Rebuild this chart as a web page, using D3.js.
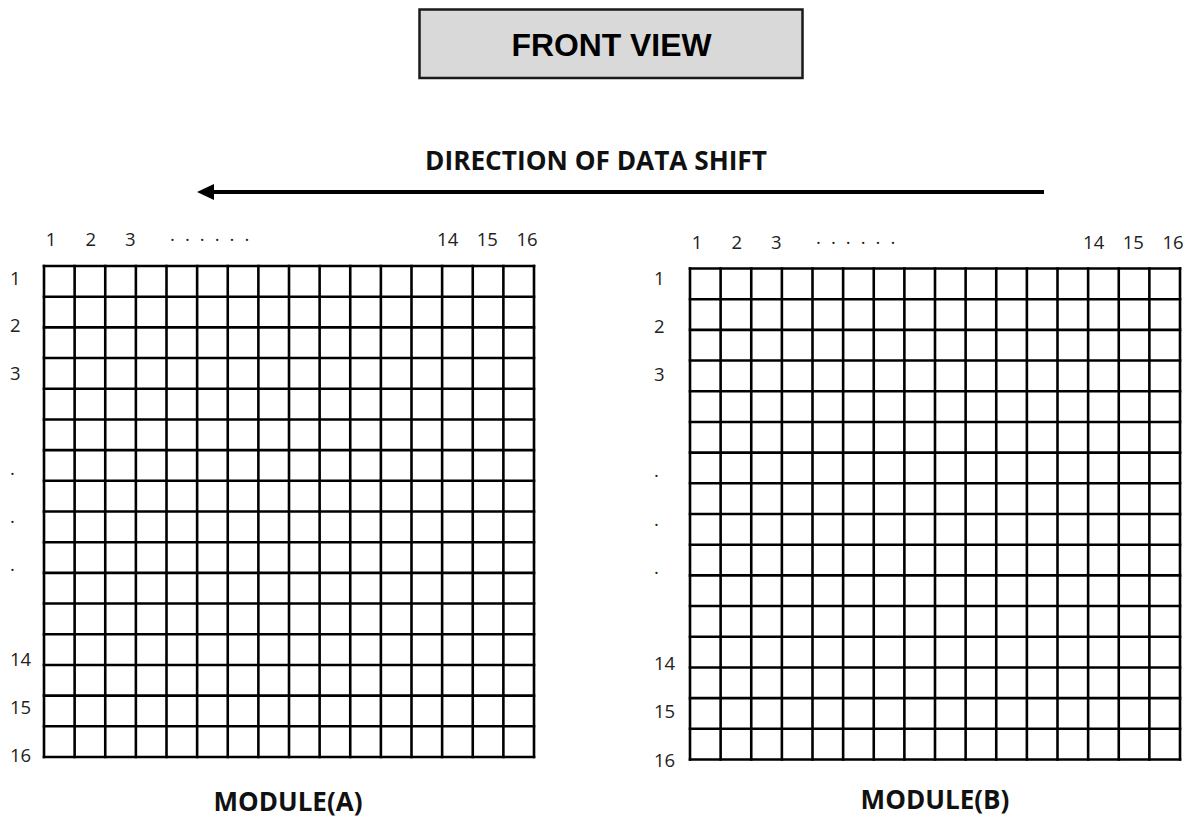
<!DOCTYPE html>
<html>
<head>
<meta charset="utf-8">
<script src="https://cdn.jsdelivr.net/npm/d3@7"></script>
<style>
  html, body { margin: 0; padding: 0; background: #fff; }
  svg { display: block; }
</style>
</head>
<body>
<svg id="chart" width="1193" height="818"></svg>
<script>
// ---------------- data ----------------
const titleText = "FRONT VIEW";
const directionText = "DIRECTION OF DATA SHIFT";
const moduleNames = ["MODULE(A)", "MODULE(B)"];
const gridRows = 16;
const gridCols = 16;
// column labels along the top (null = no label at that slot)
const colLabels = ["1", "2", "3", null, "······", null, null, null, null, null, "14", "15", "16"];
// row labels along the left side (null = no label at that slot)
const rowLabels = ["1", "2", "3", null, ".", ".", ".", null, "14", "15", "16"];

// ---------------- layout ----------------
const W = 1193, H = 818;
const svg = d3.select("#chart");
const labelFont = "'Open Sans', 'DejaVu Sans', sans-serif";
const textColor = "#222";
const labelSize = 18.5;

const layout = [
  { gx0: 44, gx1: 534, gy0: 266, gy1: 757, colL0: 51, colL1: 527, colY: 239, rowX: 10, rowY0: 278, rowY1: 755, titleX: 288, titleY: 802 },
  { gx0: 690, gx1: 1180, gy0: 268.5, gy1: 759.5, colL0: 697, colL1: 1173, colY: 242, rowX: 654, rowY0: 278, rowY1: 760, titleX: 935, titleY: 800 }
];

// helper: fit text to a target width
function fitText(sel, targetW, baseSize) {
  sel.attr("font-size", baseSize);
  const len = sel.node().getComputedTextLength();
  sel.attr("font-size", baseSize * targetW / len);
}

// ---------------- title box ----------------
svg.append("rect")
  .attr("x", 419.5).attr("y", 9.5).attr("width", 383).attr("height", 68.5)
  .attr("fill", "#d9d9d9").attr("stroke", "#1a1a1a").attr("stroke-width", 2.5);
const tt = svg.append("text")
  .attr("x", 611.5).attr("y", 45).attr("dy", "0.36em")
  .attr("text-anchor", "middle")
  .attr("font-family", "'Liberation Sans', Arial, sans-serif")
  .attr("font-weight", "bold")
  .attr("fill", "#000")
  .text(titleText);
fitText(tt, 200, 31);

// ---------------- direction text + arrow ----------------
const dt = svg.append("text")
  .attr("x", 596).attr("y", 161).attr("dy", "0.36em")
  .attr("text-anchor", "middle")
  .attr("font-family", labelFont)
  .attr("font-weight", "bold")
  .attr("fill", "#111")
  .text(directionText);
fitText(dt, 342, 21);

const arrowY = 192;
svg.append("line")
  .attr("x1", 1044).attr("x2", 210)
  .attr("y1", arrowY).attr("y2", arrowY)
  .attr("stroke", "#000").attr("stroke-width", 4);
svg.append("path")
  .attr("d", d3.line()([[197, arrowY], [214, arrowY - 8], [214, arrowY + 8]]) + "Z")
  .attr("fill", "#000");

// ---------------- modules ----------------
moduleNames.forEach((name, m) => {
  const L = layout[m];
  const g = svg.append("g");

  const x = d3.scaleLinear().domain([0, gridCols]).range([L.gx0, L.gx1]);
  const y = d3.scaleLinear().domain([0, gridRows]).range([L.gy0, L.gy1]);

  // vertical grid lines
  g.selectAll("line.v")
    .data(d3.range(gridCols + 1))
    .join("line")
    .attr("class", "v")
    .attr("x1", d => x(d)).attr("x2", d => x(d))
    .attr("y1", L.gy0).attr("y2", L.gy1)
    .attr("stroke", "#000").attr("stroke-width", 2.6)
    .attr("stroke-linecap", "square");

  // horizontal grid lines
  g.selectAll("line.h")
    .data(d3.range(gridRows + 1))
    .join("line")
    .attr("class", "h")
    .attr("x1", L.gx0).attr("x2", L.gx1)
    .attr("y1", d => y(d)).attr("y2", d => y(d))
    .attr("stroke", "#000").attr("stroke-width", 2.6)
    .attr("stroke-linecap", "square");

  // column labels
  const cx = d3.scaleLinear().domain([0, colLabels.length - 1]).range([L.colL0, L.colL1]);
  g.selectAll("text.col")
    .data(colLabels.map((t, i) => ({ t, i })).filter(d => d.t !== null))
    .join("text")
    .attr("class", "col")
    .attr("x", d => cx(d.i))
    .attr("y", L.colY).attr("dy", "0.36em")
    .attr("text-anchor", "middle")
    .attr("font-family", labelFont)
    .attr("font-size", labelSize)
    .attr("fill", textColor)
    .attr("letter-spacing", d => d.t.length > 3 ? 10 : 0)
    .attr("dx", d => d.t.length > 3 ? 5 : 0)
    .text(d => d.t);

  // row labels
  const ry = d3.scaleLinear().domain([0, rowLabels.length - 1]).range([L.rowY0, L.rowY1]);
  g.selectAll("text.row")
    .data(rowLabels.map((t, i) => ({ t, i })).filter(d => d.t !== null))
    .join("text")
    .attr("class", "row")
    .attr("x", L.rowX)
    .attr("y", d => ry(d.i)).attr("dy", "0.36em")
    .attr("text-anchor", "start")
    .attr("font-family", labelFont)
    .attr("font-size", labelSize)
    .attr("fill", textColor)
    .text(d => d.t);

  // module title
  const mt = g.append("text")
    .attr("x", L.titleX).attr("y", L.titleY).attr("dy", "0.36em")
    .attr("text-anchor", "middle")
    .attr("font-family", labelFont)
    .attr("font-weight", "bold")
    .attr("fill", "#111")
    .text(name);
  fitText(mt, 149, 21);
});
</script>
</body>
</html>
